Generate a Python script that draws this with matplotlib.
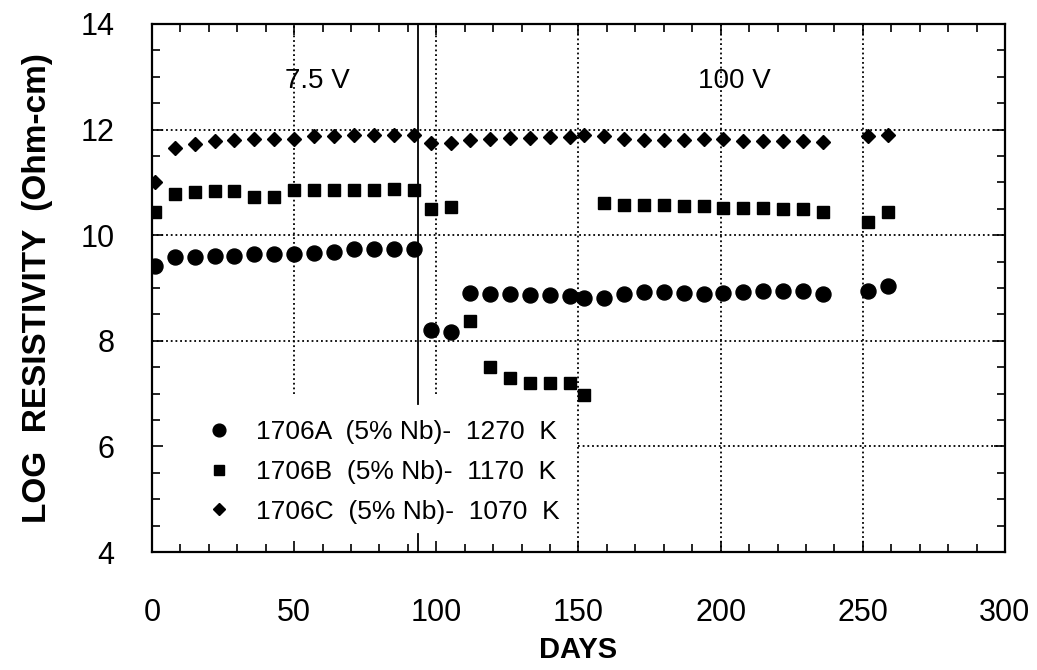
import matplotlib.pyplot as plt
from matplotlib.ticker import MultipleLocator

days = [1, 8, 15, 22, 29, 36, 43, 50, 57, 64, 71, 78, 85, 92,
        98, 105, 112, 119, 126, 133, 140, 147, 152, 159, 166, 173, 180,
        187, 194, 201, 208, 215, 222, 229, 236, 252, 259]

res_a = [9.41, 9.58, 9.58, 9.61, 9.61, 9.64, 9.64, 9.65, 9.66, 9.68, 9.73, 9.73, 9.73, 9.73,
         8.21, 8.17, 8.90, 8.88, 8.88, 8.87, 8.87, 8.85, 8.82, 8.82, 8.88, 8.93, 8.93,
         8.90, 8.89, 8.90, 8.92, 8.94, 8.94, 8.94, 8.88, 8.94, 9.04]
res_b = [10.44, 10.78, 10.82, 10.83, 10.84, 10.72, 10.72, 10.85, 10.85, 10.85, 10.86, 10.86, 10.88, 10.85,
         10.50, 10.54, 8.37, 7.51, 7.30, 7.20, 7.20, 7.21, 6.98, 10.61, 10.58, 10.57, 10.57,
         10.56, 10.55, 10.52, 10.52, 10.52, 10.50, 10.50, 10.44, 10.25, 10.44]
res_c = [11.00, 11.66, 11.73, 11.79, 11.80, 11.83, 11.83, 11.83, 11.87, 11.87, 11.89, 11.89, 11.89, 11.89,
         11.74, 11.75, 11.80, 11.83, 11.85, 11.85, 11.86, 11.86, 11.89, 11.87, 11.82, 11.80, 11.80,
         11.80, 11.82, 11.82, 11.79, 11.79, 11.79, 11.79, 11.77, 11.88, 11.89]

labels = ["1706A  (5% Nb)-  1270  K",
          "1706B  (5% Nb)-  1170  K",
          "1706C  (5% Nb)-  1070  K"]

voltage_labels = ["7.5 V", "100 V"]
voltage_x = [58, 205]
voltage_change_day = 93.5

plt.rcParams["font.family"] = ["Liberation Sans", "DejaVu Sans"]

fig = plt.figure(figsize=(10.37, 6.7), dpi=100)
ax = fig.add_axes([0.1466, 0.1761, 0.8225, 0.7881])

dot = dict(color="black", linestyle=(0, (1, 1.6)), linewidth=1.3, zorder=1)
# horizontal grid
for y in [8, 10, 12]:
    ax.plot([0, 300], [y, y], **dot)
ax.plot([150, 300], [6, 6], **dot)
# vertical grid (broken above the legend)
for x in [50, 100]:
    ax.plot([x, x], [7.0, 14], **dot)
for x in [150, 200, 250]:
    ax.plot([x, x], [4, 14], **dot)
# voltage change marker
ax.plot([voltage_change_day] * 2, [6.8, 14], color="black", linewidth=1.3, zorder=1)
ax.plot([voltage_change_day] * 2, [4, 4.35], color="black", linewidth=1.3, zorder=1)

ax.plot(days, res_a, "o", color="black", markersize=10.8, label=labels[0], zorder=3)
ax.plot(days, res_b, "s", color="black", markersize=8.7, label=labels[1], zorder=3)
ax.plot(days, res_c, "D", color="black", markersize=7.0, label=labels[2], zorder=3)

for lab, x in zip(voltage_labels, voltage_x):
    ax.text(x, 12.92, lab, fontsize=20, ha="center", va="center")

ax.set_xlim(0, 300)
ax.set_ylim(4, 14)
ax.xaxis.set_major_locator(MultipleLocator(50))
ax.xaxis.set_minor_locator(MultipleLocator(10))
ax.yaxis.set_major_locator(MultipleLocator(2))
ax.yaxis.set_minor_locator(MultipleLocator(0.5))
ax.tick_params(which="both", direction="in", top=True, right=True, width=1.2)
ax.tick_params(which="major", length=8)
ax.tick_params(which="minor", length=6)
ax.tick_params(axis="x", which="major", labelsize=22, pad=33)
ax.tick_params(axis="y", which="major", labelsize=22, pad=27)
for sp in ax.spines.values():
    sp.set_linewidth(1.6)

ax.set_xlabel("DAYS", fontsize=21, fontweight="bold", labelpad=6)
ax.set_ylabel("LOG  RESISTIVITY  (Ohm-cm)", fontsize=24, fontweight="bold", labelpad=20)

ax.legend(loc="center left", bbox_to_anchor=(0.035, 0.152), frameon=False, fontsize=19,
          handlelength=1.0, handletextpad=0.9, labelspacing=0.6, markerscale=0.85)

fig.savefig("out.png", dpi=100)
